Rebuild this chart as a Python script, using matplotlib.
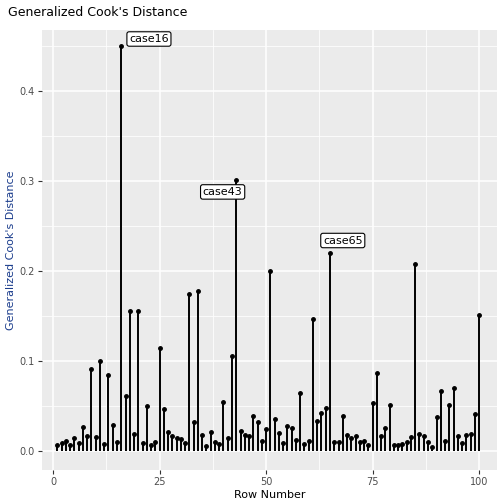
import matplotlib
matplotlib.use("Agg")
import matplotlib.pyplot as plt
import numpy as np

row = np.arange(1, 101)
cook = [0.0067,0.009,0.011,0.0067,0.014,0.009,0.027,0.017,0.091,0.016,
        0.100,0.008,0.085,0.029,0.010,0.450,0.061,0.156,0.019,0.156,
        0.009,0.050,0.007,0.010,0.115,0.047,0.021,0.017,0.014,0.013,
        0.009,0.175,0.032,0.178,0.018,0.006,0.021,0.010,0.008,0.054,
        0.014,0.106,0.301,0.022,0.018,0.017,0.039,0.032,0.011,0.024,
        0.200,0.036,0.020,0.009,0.028,0.026,0.012,0.064,0.008,0.011,
        0.147,0.033,0.042,0.048,0.220,0.010,0.010,0.039,0.018,0.014,
        0.017,0.010,0.011,0.007,0.053,0.087,0.017,0.026,0.051,0.007,
        0.007,0.008,0.010,0.016,0.208,0.019,0.017,0.010,0.004,0.038,
        0.067,0.011,0.051,0.070,0.017,0.009,0.018,0.019,0.041,0.151]
labels = {16: "case16", 43: "case43", 65: "case65"}
label_pos = {16: (22.5, 0.458), 43: (39.8, 0.288), 65: (68.0, 0.234)}

fig = plt.figure(figsize=(5.04, 5.04), dpi=100)
ax = fig.add_axes([42/504, 34/504, 455/504, 440/504])
ax.set_facecolor("#EBEBEB")
ax.set_xlim(-2.6, 104.2)
ax.set_ylim(-0.0211, 0.468)
ax.set_xticks([0, 25, 50, 75, 100])
ax.set_yticks([0.0, 0.1, 0.2, 0.3, 0.4])
ax.set_yticklabels(["0.0", "0.1", "0.2", "0.3", "0.4"])
ax.set_xticks([12.5, 37.5, 62.5, 87.5], minor=True)
ax.set_yticks([0.05, 0.15, 0.25, 0.35, 0.45], minor=True)
ax.grid(which="major", color="white", lw=1.1)
ax.grid(which="minor", color="white", lw=0.55)
ax.set_axisbelow(True)
for s in ax.spines.values():
    s.set_visible(False)
ax.tick_params(which="major", length=3, color="#333333", labelsize=7, labelcolor="#4D4D4D", pad=2)
ax.tick_params(which="minor", length=0)

ax.vlines(row, 0, cook, color="black", lw=1.4)
ax.plot(row, cook, "o", color="black", ms=2.5)
for k, t in labels.items():
    x, y = label_pos[k]
    ax.text(x, y, t, fontsize=8, ha="center", va="center",
            bbox=dict(boxstyle="round,pad=0.2", fc="white", ec="black", lw=0.8))

ax.set_xlabel("Row Number", fontsize=8, labelpad=2)
ax.set_ylabel("Generalized Cook's Distance", fontsize=8, color="#1A3C8C", labelpad=3)
fig.text(8/504, 1 - 12/504, "Generalized Cook's Distance", fontsize=9, va="center")
fig.savefig("out.png", dpi=100)
